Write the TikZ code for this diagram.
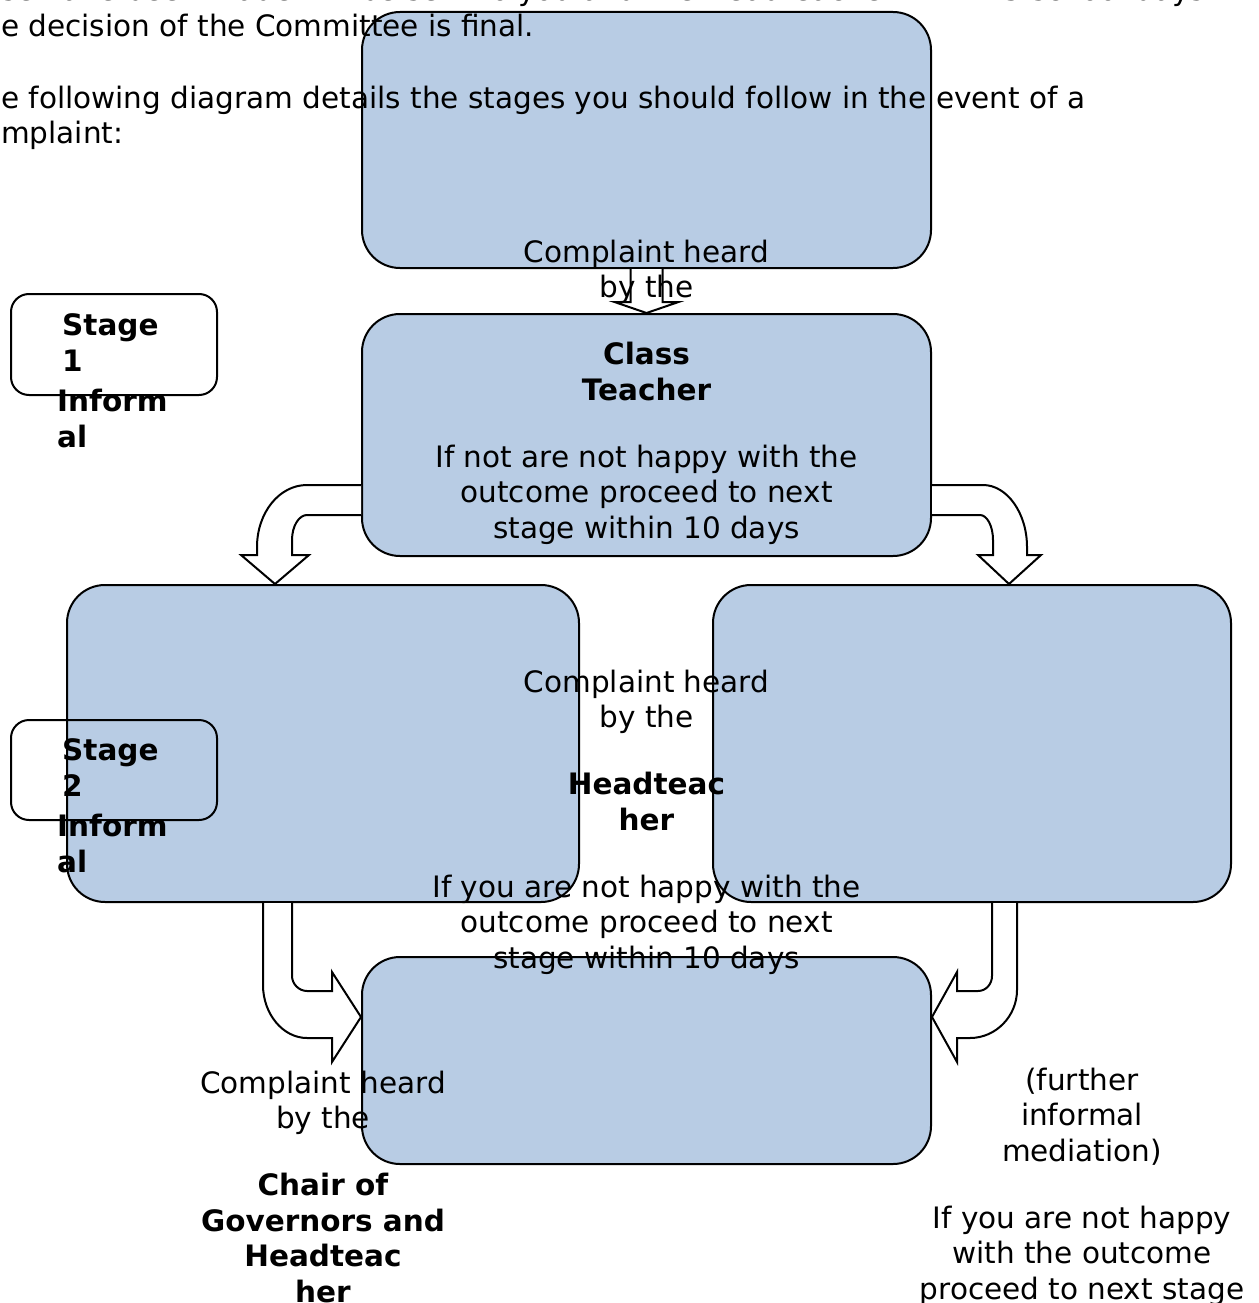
\documentclass[tikz,border=0pt]{standalone}
\usepackage{fontspec}
\setmainfont{DejaVu Sans}
\usetikzlibrary{calc}
\definecolor{boxblue}{HTML}{B8CCE4}
\tikzset{
  panel/.style={draw, line width=2pt, fill=boxblue, rounded corners=38pt},
  stagebox/.style={draw, line width=2pt, rounded corners=18pt},
  blockarrow/.style={draw, line width=2pt, fill=white, line join=miter},
  % nodes sit on the baseline of their last line
  words/.style={align=center, inner sep=0pt, anchor=base,
    font=\fontsize{29.5}{35.5}\selectfont},
  stagetext/.style={words, align=left, anchor=base west,
    font=\fontsize{29.5}{35.5}\selectfont\bfseries},
}
\begin{document}
\begin{tikzpicture}[x=1pt,y=-1pt]
\useasboundingbox (0,0) rectangle (1258,1303);
\clip (0,0) rectangle (1258,1303);
% boxes of the chart
\node[panel, minimum width=569pt, minimum height=256pt] (hear) at (646.5,140) {};
\node[panel, minimum width=569pt, minimum height=242pt] (teacher) at (646.5,435) {};
\node[panel, minimum width=512pt, minimum height=317pt] (head) at (323,743.5) {};
\node[panel, minimum width=518pt, minimum height=317pt] (mediate) at (972,743.5) {};
\node[panel, minimum width=569pt, minimum height=207pt] (chair) at (646.5,1060.5) {};
\node[stagebox, minimum width=206pt, minimum height=101pt] (stage1) at (114,344.5) {};
\node[stagebox, minimum width=206pt, minimum height=100pt] (stage2) at (114,770) {};
% arrows
\draw[blockarrow] ($(hear.south)+(-16,0)$) -- (630.5,302) -- (614.5,302) -- (teacher.north)
  -- (678.5,302) -- (662.5,302) -- ($(hear.south)+(16,0)$);
\draw[blockarrow] ($(teacher.west)+(0,50)$) -- (307,485) .. controls (279,485) and (257,513) .. (257,547)
  -- (257,555) -- (241,555) -- ($(head.north)+(-48,0)$) -- (309,555) -- (292,555) -- (292,540)
  .. controls (292,526) and (299,515) .. (307,515) -- ($(teacher.west)+(0,80)$);
\draw[blockarrow] ($(teacher.east)+(0,50)$) -- (983,485) .. controls (1007,485) and (1027,513) .. (1027,547)
  -- (1027,555) -- (1041,555) -- ($(mediate.north)+(37,0)$) -- (978,555) -- (993,555) -- (993,540)
  .. controls (993,526) and (987,515) .. (980,515) -- ($(teacher.east)+(0,80)$);
\draw[blockarrow] ($(head.south)+(-60,0)$) -- (263,985) .. controls (263,1014) and (283,1038) .. (307,1038)
  -- (332,1038) -- (332,1062) -- ($(chair.west)+(0,-43.5)$) -- (332,972) -- (332,991) -- (307,991)
  .. controls (299,991) and (292,984) .. (292,976) -- ($(head.south)+(-31,0)$);
\draw[blockarrow] ($(mediate.south)+(45,0)$) -- (1017,990) .. controls (1017,1016) and (996,1038) .. (970,1038)
  -- (957,1038) -- (957,1062) -- ($(chair.east)+(0,-43.5)$) -- (957,972) -- (957,991) -- (978,991)
  .. controls (986,991) and (992,984) .. (992,976) -- ($(mediate.south)+(20,0)$);
% texts
\node[words, align=left, anchor=base west] (intro) at (1,143.5)
  {se have been made will be sent to you and the Headteacher within 5 school days.\\
   e decision of the Committee is final.\\[36pt]
   e following diagram details the stages you should follow in the event of a\\
   mplaint:};
\node[stagetext] (lab1) at (57,447) {\hspace*{5pt}Stage\\\hspace*{5pt}1\\[5pt]Inform\\al};
\node[stagetext] (lab2) at (57,872) {\hspace*{5pt}Stage\\\hspace*{5pt}2\\[5pt]Inform\\al};
\node[words] (say1) at (646.5,538) {Complaint heard\\by the\\[31.5pt]\textbf{Class}\\\textbf{Teacher}\\[31.5pt]
  If not are not happy with the\\outcome proceed to next\\stage within 10 days};
\node[words] (say2) at (646.5,968) {Complaint heard\\by the\\[31.5pt]\textbf{Headteac}\\\textbf{her}\\[31.5pt]
  If you are not happy with the\\outcome proceed to next\\stage within 10 days};
\node[words] (say3) at (323,1302) {Complaint heard\\by the\\[31.5pt]\textbf{Chair of}\\\textbf{Governors and}\\
  \textbf{Headteac}\\\textbf{her}};
\node[words] (say4) at (1082,1299) {(further\\informal\\mediation)\\[31.5pt]
  If you are not happy\\with the outcome\\proceed to next stage};
\end{tikzpicture}
\end{document}
